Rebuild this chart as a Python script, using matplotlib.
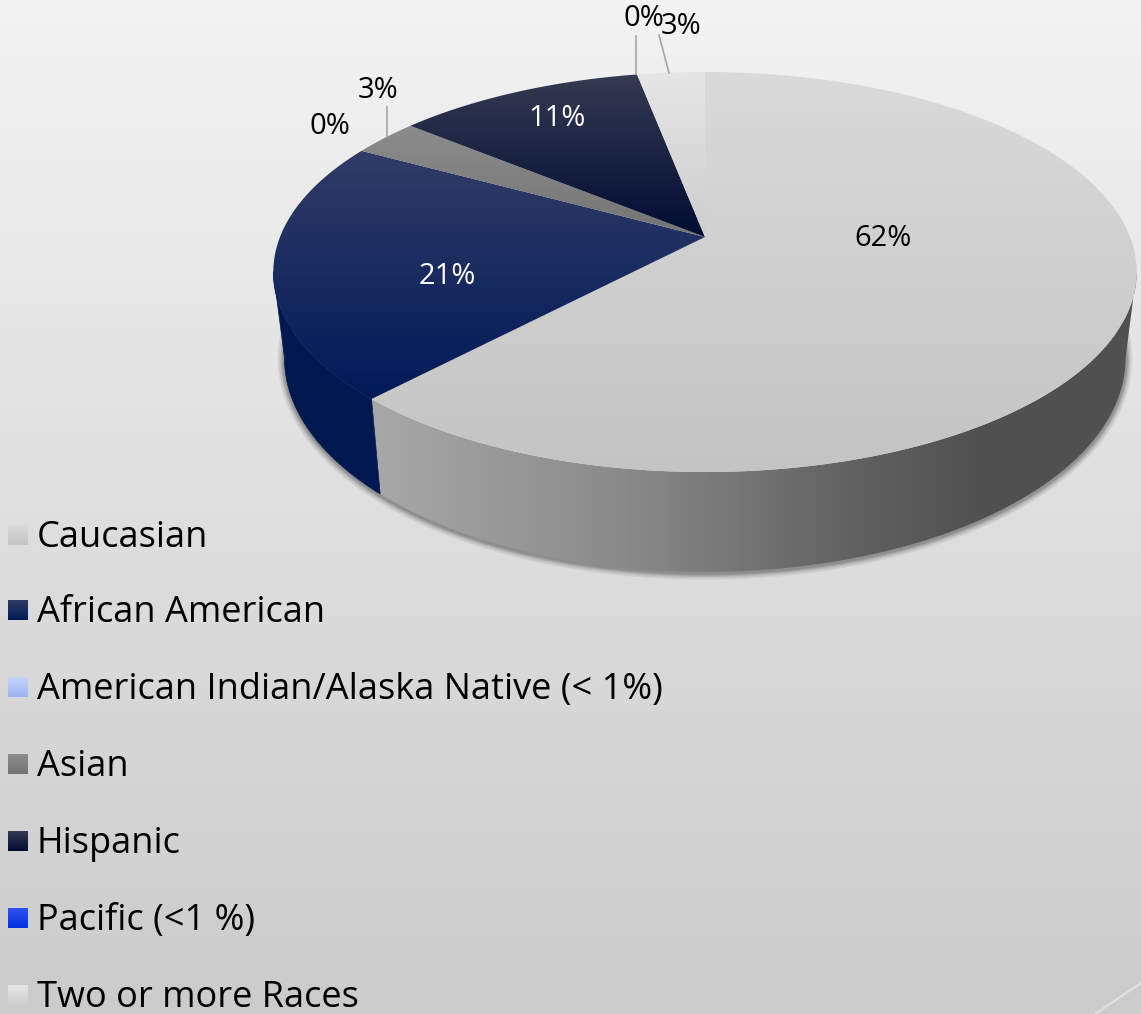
import numpy as np
import matplotlib
matplotlib.use('Agg')
import matplotlib.pyplot as plt
from matplotlib.colors import LinearSegmentedColormap
from matplotlib.patches import Polygon

categories = ['Caucasian', 'African American', 'American Indian/Alaska Native (< 1%)',
              'Asian', 'Hispanic', 'Pacific (<1 %)', 'Two or more Races']
values = [62, 21, 0, 3, 11, 0, 3]
pct_labels = ['62%', '21%', '0%', '3%', '11%', '0%', '3%']
grad_top = ['#dadada', '#323c66', '#c8d5fc', '#8c8c8c', '#363a52', '#3152f0', '#e6e6e6']
grad_bot = ['#c4c4c4', '#001a58', '#9bb2f0', '#747474', '#000c32', '#0030e0', '#cdcdcd']
label_colors = ['black', 'white', 'black', 'black', 'white', 'black', 'black']

W, H = 1141, 1014
label_xy = [(883, 239), (447, 277), (330, 127), (378, 90), (557, 119), (644, 19), (681, 26)]
legend_y = [535, 610, 687, 764, 841, 918, 995]
leaders = [None, None, None, [(387, 107), (387, 137)], None,
           [(636, 36), (636, 74)], [(659, 35), (669, 73)]]

# pie is a circle pushed through a perspective mapping
CX, K = 705, 0.175
TOP = dict(cy=237, a=425, b=193.9)
BOT = dict(cy=321, a=414, b=207)


def project(theta_deg, cy, a, b):
    t = np.radians(theta_deg)
    d = 1 + K * np.cos(t)
    return np.column_stack([CX + a * np.sin(t) / d, cy - b * np.cos(t) / d])


def gradient(ax, patch, cmap, horizontal=False, extent=None):
    ramp = np.linspace(0, 1, 256)
    ramp = ramp[None, :] if horizontal else ramp[:, None]
    if extent is None:
        xy = patch.get_xy()
        extent = [xy[:, 0].min(), xy[:, 0].max(), xy[:, 1].max(), xy[:, 1].min()]
    ax.add_patch(patch)
    im = ax.imshow(ramp, cmap=cmap, extent=extent, aspect='auto', zorder=patch.get_zorder(),
                   interpolation='bilinear')
    im.set_clip_path(patch)
    return im


def ramp_cmap(c0, c1):
    return LinearSegmentedColormap.from_list('g', [c0, c1])


fig = plt.figure(figsize=(W / 100, H / 100), dpi=100)
ax = fig.add_axes([0, 0, 1, 1])
ax.axis('off')

ax.imshow(np.linspace(0, 1, 256)[:, None], cmap=ramp_cmap('#f3f3f3', '#cbcbcb'),
          extent=[0, W, H, 0], aspect='auto', zorder=0)
ax.plot([1095, W], [H, 983], color='#e2e2e2', lw=1.5, zorder=1)

# shadow under the pie
shadow = project(np.linspace(85, 275, 200), **BOT)
for lw in [10, 8, 6, 5, 4, 3, 2]:
    ax.plot(shadow[:, 0], shadow[:, 1] + 1, color='black', alpha=0.06, lw=lw, zorder=2,
            solid_capstyle='butt')

edges = np.cumsum([0] + values) * 360 / sum(values)

# sides, theta 100 and 260 are where the rim turns out of view
side_cmap = LinearSegmentedColormap.from_list(
    'side', [(0, '#a8a8a8'), (0.33, '#8a8a8a'), (0.62, '#626262'), (0.8, '#505050'), (1, '#505050')])
th = np.linspace(100, edges[1], 300)
poly = Polygon(np.vstack([project(th, **TOP), project(th[::-1], **BOT)]), closed=True,
               fc='none', ec='none', zorder=3)
gradient(ax, poly, side_cmap, horizontal=True, extent=[370, 1140, 600, 100])
th = np.linspace(edges[1], 260, 100)
side_pts = np.vstack([project(th, **TOP), project(th[::-1], **BOT)])
ax.add_patch(Polygon(side_pts, closed=True, fc='#001850', ec='#001850', lw=0.5, zorder=3))

# top surface
for i, v in enumerate(values):
    if v == 0:
        continue
    th = np.linspace(edges[i], edges[i + 1], max(int(v * 8), 12))
    pts = np.vstack([[[CX, TOP['cy']]], project(th, **TOP)])
    poly = Polygon(pts, closed=True, fc='none', ec='none', zorder=4)
    gradient(ax, poly, ramp_cmap(grad_top[i], grad_bot[i]))

for seg in leaders:
    if seg:
        ax.plot([seg[0][0], seg[1][0]], [seg[0][1], seg[1][1]], color='#a6a6a6', lw=1.2, zorder=5)

for i, txt in enumerate(pct_labels):
    ax.text(label_xy[i][0], label_xy[i][1], txt, color=label_colors[i], fontsize=21,
            family='Open Sans', ha='center', va='center', zorder=6)

# legend
for i, name in enumerate(categories):
    y = legend_y[i]
    ax.imshow(np.linspace(0, 1, 64)[:, None], cmap=ramp_cmap(grad_top[i], grad_bot[i]),
              extent=[8, 28, y + 10, y - 10], aspect='auto', zorder=5)
    ax.text(37, y + 12, name, color='black', fontsize=26, family='Open Sans',
            ha='left', va='baseline', zorder=6)

ax.set_xlim(0, W)
ax.set_ylim(H, 0)
fig.savefig('out.png', dpi=100)
